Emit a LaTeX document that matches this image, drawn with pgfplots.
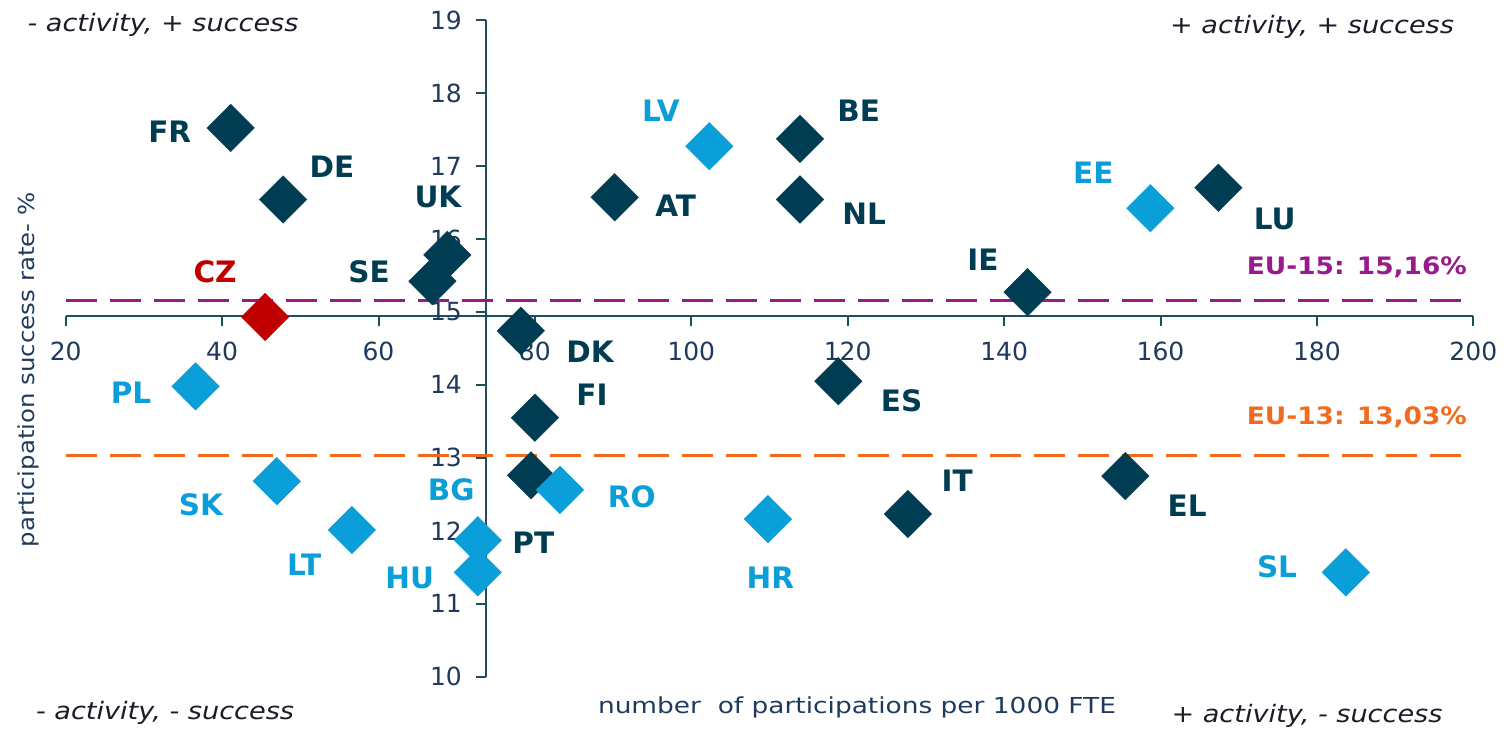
\documentclass[border=0pt]{standalone}
\usepackage{fontspec}
\setmainfont{DejaVu Sans}
\usepackage{graphicx}
\usepackage{pgfplots}
\pgfplotsset{compat=1.18}
\definecolor{dk}{HTML}{003D52}
\definecolor{lb}{HTML}{0A9FD8}
\definecolor{czred}{HTML}{C00000}
\definecolor{purp}{HTML}{9A1A8C}
\definecolor{orng}{HTML}{F26A1B}
\definecolor{axc}{HTML}{1E4D5F}
\definecolor{tk}{HTML}{1F3A5C}
\definecolor{crn}{HTML}{1C1C28}
\newcommand{\cl}[4]{\node[font=\fontsize{29.5}{32}\selectfont\bfseries, text=#4] at (axis cs:#1,#2) {#3};}
\begin{document}
\begin{tikzpicture}
\begin{axis}[
 scale only axis, width=1407.6pt, height=656.7pt,
 xmin=20,xmax=200,ymin=10,ymax=19,
 axis x line=bottom, axis y line=left,
 axis x line shift=-360.4pt, axis y line shift=-420.7pt,
 axis line style={-, draw=axc, line width=2pt},
 xtick={20,40,...,200}, ytick={10,...,19},
 tick style={draw=axc, line width=2pt},
 tick align=outside, major tick length=10pt,
 ticklabel style={font=\fontsize{25}{29}\selectfont, text=tk},
 xticklabel style={yshift=-12pt},
 yticklabel style={xshift=-11pt},
 /pgf/number format/assume math mode=true,
 clip=false,
]
\addplot[purp, line width=3.3pt, dash pattern=on 31pt off 13pt] coordinates {(20,15.16) (200,15.16)};
\addplot[orng, line width=3.3pt, dash pattern=on 31pt off 13pt] coordinates {(20,13.03) (200,13.03)};
% EU-15 (dark)
\addplot[only marks, mark=square*, mark size=16.8pt, mark options={rotate=45, fill=dk, draw=dk}] coordinates {
 (41.1,17.52) (47.8,16.54) (68.8,15.78) (66.9,15.42) (78.2,14.74) (80.0,13.55) (79.5,12.76)
 (90.2,16.57) (113.9,17.37) (113.9,16.54) (118.8,14.05) (127.7,12.23) (143.0,15.27)
 (167.4,16.70) (155.5,12.75)};
% EU-13 (light)
\addplot[only marks, mark=square*, mark size=16.8pt, mark options={rotate=45, fill=lb, draw=lb}] coordinates {
 (36.6,13.98) (47.0,12.68) (56.6,12.01) (83.2,12.56) (72.7,11.87) (72.7,11.43)
 (102.3,17.27) (109.8,12.16) (158.7,16.42) (183.7,11.43)};
% CZ
\addplot[only marks, mark=square*, mark size=16.8pt, mark options={rotate=45, fill=czred, draw=czred}] coordinates {(45.5,14.93)};
\cl{33.3}{17.47}{FR}{dk}
\cl{54.05}{16.99}{DE}{dk}
\cl{67.6}{16.57}{UK}{dk}
\cl{58.8}{15.55}{SE}{dk}
\cl{39.1}{15.55}{CZ}{czred}
\cl{87.05}{14.45}{DK}{dk}
\cl{28.35}{13.89}{PL}{lb}
\cl{87.3}{13.86}{FI}{dk}
\cl{37.3}{12.35}{SK}{lb}
\cl{69.3}{12.56}{BG}{lb}
\cl{92.4}{12.46}{RO}{lb}
\cl{79.8}{11.83}{PT}{dk}
\cl{50.5}{11.53}{LT}{lb}
\cl{64.0}{11.35}{HU}{lb}
\cl{98.0}{16.46}{AT}{dk}
\cl{96.1}{17.75}{LV}{lb}
\cl{121.4}{17.75}{BE}{dk}
\cl{122.1}{16.34}{NL}{dk}
\cl{126.9}{13.78}{ES}{dk}
\cl{110.1}{11.35}{HR}{lb}
\cl{134.0}{12.68}{IT}{dk}
\cl{137.3}{15.71}{IE}{dk}
\cl{151.4}{16.90}{EE}{lb}
\cl{174.6}{16.27}{LU}{dk}
\cl{163.4}{12.34}{EL}{dk}
\cl{174.9}{11.50}{SL}{lb}
\node[font=\fontsize{24}{28}\selectfont\bfseries, text=purp, anchor=east, inner sep=0pt] at (axis cs:199.2,15.61) {\scalebox{1.1}[1]{EU-15: 15,16\%}};
\node[font=\fontsize{24}{28}\selectfont\bfseries, text=orng, anchor=east, inner sep=0pt] at (axis cs:199.2,13.55) {\scalebox{1.1}[1]{EU-13: 13,03\%}};
\coordinate (LL) at (rel axis cs:0,0);
\end{axis}
\pgfresetboundingbox
\path ([shift={(-65.7pt,-52.3pt)}]LL) rectangle ([shift={(1443.3pt,676.7pt)}]LL);
\begin{scope}[shift={([shift={(-65.7pt,-52.3pt)}]LL)}, x=1pt, y=-1pt, yshift=729pt]
\node[font=\fontsize{24}{28}\selectfont\itshape, text=crn] at (163,25) {\scalebox{1.13}[1]{- activity, + success}};
\node[font=\fontsize{24}{28}\selectfont\itshape, text=crn] at (1312,27) {\scalebox{1.13}[1]{+ activity, + success}};
\node[font=\fontsize{24}{28}\selectfont\itshape, text=crn] at (165,713) {\scalebox{1.13}[1]{- activity, - success}};
\node[font=\fontsize{24}{28}\selectfont\itshape, text=crn] at (1307,716) {\scalebox{1.13}[1]{+ activity, - success}};
\node[font=\fontsize{22}{26}\selectfont, text=tk] at (857,707) {\scalebox{1.2}[1]{number\ \ of participations per 1000 FTE}};
\node[font=\fontsize{22}{26}\selectfont, text=tk, rotate=90] at (28,370) {\scalebox{1.11}[1]{participation success rate- \%}};
\end{scope}
\end{tikzpicture}
\end{document}
